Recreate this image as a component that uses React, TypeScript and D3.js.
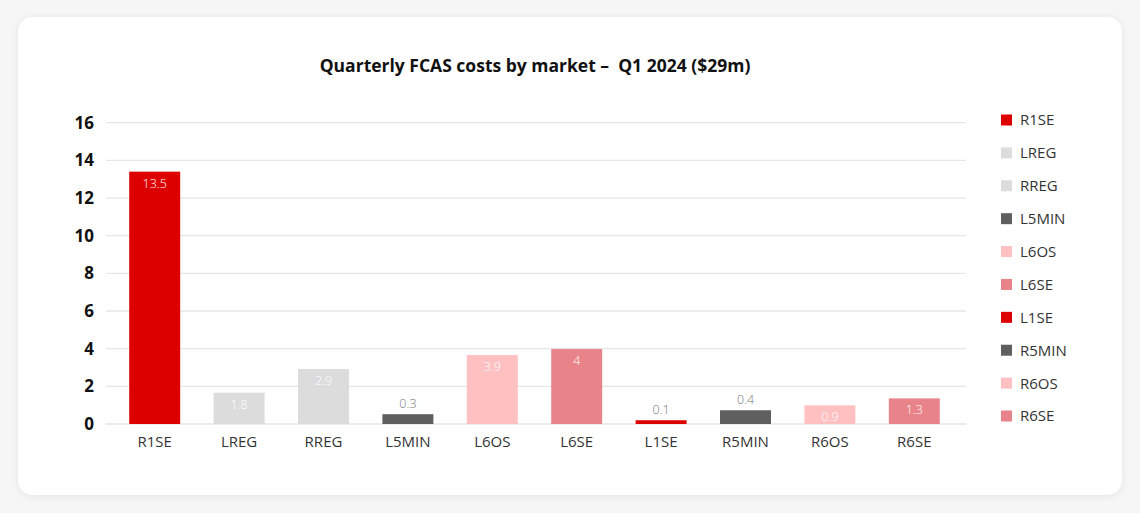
import React from "react";
import * as d3 from "d3";

const categories = ["R1SE", "LREG", "RREG", "L5MIN", "L6OS", "L6SE", "L1SE", "R5MIN", "R6OS", "R6SE"];
const values = [13.4, 1.66, 2.92, 0.52, 3.66, 3.98, 0.2, 0.73, 0.99, 1.36];
const valueLabels = ["13.5", "1.8", "2.9", "0.3", "3.9", "4", "0.1", "0.4", "0.9", "1.3"];
const colors = ["#dd0000", "#dcdcdc", "#dcdcdc", "#5f5f5f", "#ffc0c2", "#e8838a", "#dd0000", "#5f5f5f", "#ffc0c2", "#e8838a"];
const yTicks = [0, 2, 4, 6, 8, 10, 12, 14, 16];
const title = "Quarterly FCAS costs by market –  Q1 2024 ($29m)";

const W = 1140;
const H = 513;
const FONT = "'Open Sans', 'Noto Sans', sans-serif";

export default function App() {
  const x = d3.scaleBand<string>().domain(categories).range([112.5, 956.5]).paddingInner(0.396).paddingOuter(0.198);
  const y = d3.scaleLinear().domain([0, 16]).range([424, 122.7]);
  const legendY = d3.scalePoint<string>().domain(categories).range([120, 416]);

  return (
    <div style={{ position: "absolute", left: 0, top: 0, width: W, height: H, background: "#f6f6f6" }}>
      <svg width={W} height={H} style={{ display: "block" }}>
        <defs>
          <filter id="sh" x="-5%" y="-5%" width="110%" height="110%">
            <feGaussianBlur in="SourceAlpha" stdDeviation="4" />
            <feOffset dx="0" dy="1" />
            <feComponentTransfer>
              <feFuncA type="linear" slope="0.08" />
            </feComponentTransfer>
            <feMerge>
              <feMergeNode />
              <feMergeNode in="SourceGraphic" />
            </feMerge>
          </filter>
        </defs>
        <rect x={18} y={17} width={1104} height={478} rx={15} fill="#ffffff" filter="url(#sh)" />
        <text x={535} y={72} textAnchor="middle" fontFamily={FONT} fontWeight={700} fontSize={17.5} fill="#111" style={{ whiteSpace: "pre" }}>
          {title}
        </text>
        {yTicks.map((t) => (
          <g key={t}>
            <line x1={106} x2={966} y1={y(t)} y2={y(t)} stroke="#e6e6e6" strokeWidth={1.3} />
            <text x={94} y={y(t)} dy="0.36em" textAnchor="end" fontFamily={FONT} fontWeight={700} fontSize={17} fill="#111">
              {t}
            </text>
          </g>
        ))}
        {categories.map((c, i) => {
          const bx = x(c)!;
          const bw = x.bandwidth();
          const top = y(values[i]);
          const h = y(0) - top;
          const inside = h > 15;
          return (
            <g key={c}>
              <rect x={bx} y={top} width={bw} height={h} fill={colors[i]} />
              <text
                x={bx + bw / 2}
                y={inside ? top + 16 : top - 6}
                textAnchor="middle"
                fontFamily={FONT}
                fontWeight={300}
                fontSize={12.5}
                fill={inside ? "#ffffff" : "#777"}
              >
                {valueLabels[i]}
              </text>
              <text x={bx + bw / 2} y={447} textAnchor="middle" fontFamily={FONT} fontSize={15} fill="#333">
                {c}
              </text>
            </g>
          );
        })}
        {categories.map((c, i) => (
          <g key={"lg" + c}>
            <rect x={1001} y={legendY(c)! - 5.5} width={11} height={11} fill={colors[i]} />
            <text x={1020} y={legendY(c)!} dy="0.36em" fontFamily={FONT} fontSize={15} fill="#333">
              {c}
            </text>
          </g>
        ))}
      </svg>
    </div>
  );
}
